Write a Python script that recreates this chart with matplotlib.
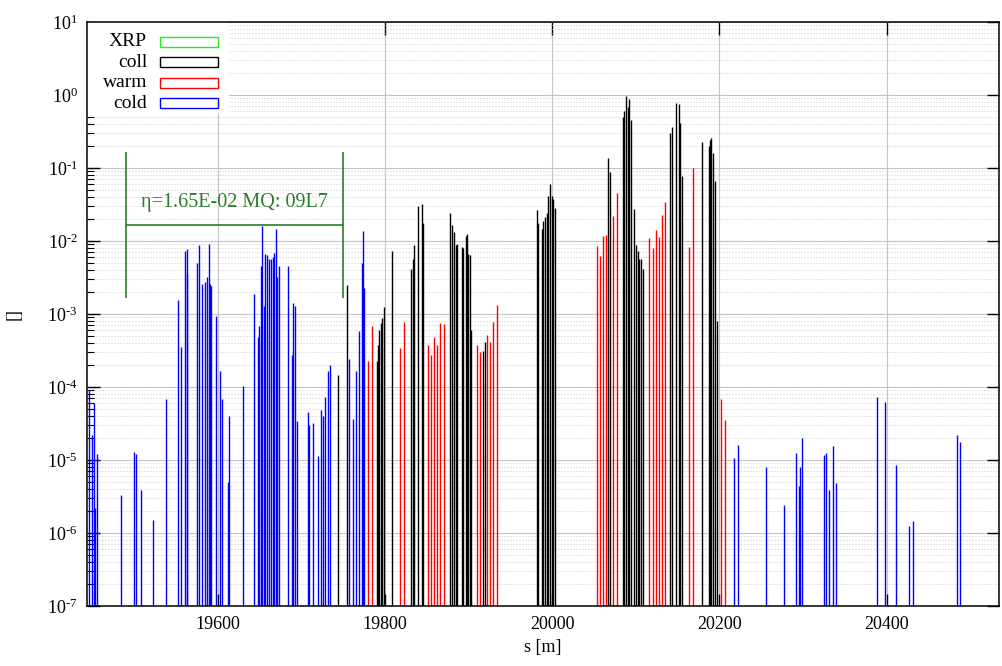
import matplotlib
matplotlib.use('Agg')
import matplotlib.pyplot as plt
from matplotlib.patches import Rectangle
from matplotlib.ticker import FixedLocator, NullFormatter, FixedFormatter

plt.rcParams['font.family'] = ['Liberation Serif', 'DejaVu Serif']
plt.rcParams['mathtext.fontset'] = 'custom'
plt.rcParams['mathtext.rm'] = 'Liberation Serif'
plt.rcParams['mathtext.it'] = 'Liberation Serif:italic'

# ---------------- data ----------------
cold_s = [19445.6, 19448.9, 19452.0, 19453.2, 19455.2, 19484.3, 19499.1, 19501.9, 19507.5, 19522.2,
          19538.1, 19552.1, 19555.4, 19560.1, 19562.5, 19563.5, 19574.5, 19577.6, 19580.3, 19585.0,
          19587.1, 19589.2, 19590.4, 19592.0, 19597.2, 19602.4, 19605.1, 19611.6, 19612.8, 19629.6,
          19643.4, 19647.5, 19649.4, 19651.1, 19653.0, 19655.4, 19656.6, 19658.6, 19661.4, 19663.4,
          19665.5, 19667.0, 19669.0, 19671.0, 19673.4, 19684.1, 19688.2, 19689.8, 19692.5, 19694.5,
          19708.1, 19709.3, 19713.3, 19719.7, 19723.3, 19726.0, 19728.4, 19731.3, 19734.4, 19757.1,
          19761.2, 19764.8, 19769.1, 19772.0, 19773.2, 19774.7, 20217.9, 20222.3, 20255.4, 20277.0,
          20291.7, 20294.9, 20296.8, 20299.2, 20325.2, 20327.6, 20330.8, 20336.3, 20339.6, 20388.6,
          20398.6, 20411.4, 20426.9, 20431.7, 20484.7, 20487.6]
cold_v = [9e-5, 2.2e-5, 6e-5, 2.2e-6, 1.2e-5, 3.3e-6, 1.3e-5, 1.2e-5, 3.9e-6, 1.5e-6,
          6.9e-5, 1.55e-3, 3.5e-4, 7.4e-3, 7.8e-3, 3.5e-3, 5e-3, 8.7e-3, 2.6e-3, 2.75e-3,
          3.2e-3, 9.1e-3, 2.6e-3, 2.4e-3, 9.5e-4, 1.66e-4, 6.9e-5, 5e-6, 4e-5, 1.02e-4,
          1.9e-3, 4.9e-4, 6.9e-4, 4.5e-3, 1.62e-2, 1.3e-3, 6.6e-3, 6.5e-3, 5.6e-3, 5.6e-3,
          6e-3, 6.9e-3, 1.48e-2, 3.2e-3, 4.5e-3, 4.6e-3, 2.75e-4, 1.4e-3, 1.3e-3, 3.4e-5,
          4.5e-5, 3e-5, 3.2e-5, 1.15e-5, 4.9e-5, 4e-5, 7.2e-5, 1.66e-4, 2e-4, 2.45e-4,
          3.6e-5, 1.66e-4, 5.9e-4, 5e-3, 1.38e-2, 2.3e-3, 1.05e-5, 1.6e-5, 8.1e-6, 2.4e-6,
          1.23e-5, 4.4e-6, 7.9e-6, 2e-5, 1.17e-5, 1.26e-5, 3.9e-6, 1.55e-5, 4.9e-6, 7.2e-5,
          6.3e-5, 8.5e-6, 1.26e-6, 1.48e-6, 2.2e-5, 1.74e-5]

coll_s = [19743.2, 19754.7, 19789.9, 19791.1, 19793.0, 19795.1, 19796.6, 19798.7, 19807.9, 19830.6,
          19833.0, 19834.9, 19839.0, 19843.8, 19845.7, 19878.0, 19880.0, 19882.1, 19884.5, 19886.0,
          19892.0, 19893.5, 19896.4, 19898.0, 19899.5, 19901.2, 19902.4, 19917.5, 19919.5, 19981.4,
          19983.3, 19987.4, 19989.3, 19991.3, 19993.4, 19995.3, 19997.3, 19999.3, 20001.3, 20003.3,
          20067.1, 20068.7, 20084.3, 20086.2, 20088.3, 20090.3, 20092.2, 20094.2, 20098.2, 20100.2,
          20102.3, 20104.2, 20106.2, 20108.2, 20140.6, 20142.9, 20147.7, 20151.3, 20153.2, 20155.6,
          20178.8, 20187.2, 20188.8, 20190.3, 20192.4, 20195.1, 20197.2]
coll_v = [1.45e-4, 2.5e-3, 2.3e-4, 3.8e-4, 6e-4, 7.6e-4, 8.9e-4, 1.26e-3, 7.4e-3, 4.1e-3,
          5.6e-3, 8.9e-3, 3e-2, 3.2e-2, 1.74e-2, 2.4e-2, 1.66e-2, 1.32e-2, 8.9e-3, 9.1e-3,
          8.3e-3, 7.9e-3, 1.17e-2, 1.26e-2, 6.6e-3, 6.5e-3, 6e-4, 3.1e-4, 4.2e-4, 2.7e-2,
          1.78e-2, 1.45e-2, 1.86e-2, 2.1e-2, 2.45e-2, 4.1e-2, 6e-2, 4.1e-2, 3.8e-2, 2.8e-2,
          1.38e-1, 8.7e-2, 0.5, 0.6, 0.98, 0.69, 0.87, 0.46, 2.75e-2, 8.9e-3,
          7.2e-3, 5.6e-3, 5.6e-3, 4.1e-3, 0.30, 0.37, 0.78, 0.76, 0.41, 7.8e-2,
          0.23, 0.20, 0.24, 0.26, 0.16, 6.6e-2, 8.1e-4]

warm_s = [19779.9, 19784.3, 19817.8, 19822.6, 19851.0, 19854.9, 19858.5, 19862.4, 19866.0, 19870.1,
          19909.6, 19913.2, 19921.9, 19925.9, 19929.5, 19933.5, 20053.2, 20056.8, 20060.7, 20064.7,
          20073.1, 20077.1, 20116.1, 20120.2, 20123.8, 20127.7, 20131.3, 20135.3, 20164.0, 20168.8,
          20202.3, 20206.4]
warm_v = [2.3e-4, 6.8e-4, 3.4e-4, 7.8e-4, 3.8e-4, 2.75e-4, 4.9e-4, 3.8e-4, 7.6e-4, 7.4e-4,
          3.8e-4, 3e-4, 5.2e-4, 4.2e-4, 7.8e-4, 1.32e-3, 8.5e-3, 6.2e-3, 1.17e-2, 1.2e-2,
          2.2e-2, 4.6e-2, 1.1e-2, 7.9e-3, 1.41e-2, 1.12e-2, 2.3e-2, 3.4e-2, 8.3e-3, 0.1,
          6.9e-5, 3.5e-5]

xrp_s = []
xrp_v = []

legend_labels = ['XRP', 'coll', 'warm', 'cold']
legend_colors = ['#22ee22', 'black', 'red', 'blue']

eta = 1.65e-2
mq_start = 19489.5
mq_end = 19749.6
mq_label = 'η=1.65E-02 MQ: 09L7'

x_ticks = [19600, 19800, 20000, 20200, 20400]
y_exps = [-7, -6, -5, -4, -3, -2, -1, 0, 1]
x_min, x_max = 19443.6, 20534.6
y_min, y_max = 1e-7, 1e1

assert len(cold_s) == len(cold_v)
assert len(coll_s) == len(coll_v)
assert len(warm_s) == len(warm_v)

# ---------------- figure ----------------
fig = plt.figure(figsize=(10.02, 6.66), dpi=100)
ax = fig.add_axes([0.08713, 0.09009, 0.90988, 0.87688])
ax.set_yscale('log')
ax.set_xlim(x_min, x_max)
ax.set_ylim(y_min, y_max)

y_major = [10.0 ** e for e in y_exps]
y_minor = [m * 10.0 ** e for e in y_exps[:-1] for m in range(2, 10)]
ax.xaxis.set_major_locator(FixedLocator(x_ticks))
ax.yaxis.set_major_locator(FixedLocator(y_major))
ax.yaxis.set_major_formatter(FixedFormatter([r'$10^{\text{%d}}$' % e for e in y_exps]))
ax.yaxis.set_minor_locator(FixedLocator(y_minor))
ax.yaxis.set_minor_formatter(NullFormatter())

# grid
ax.grid(which='major', axis='both', color='#c4c4c4', lw=0.8, ls='-', zorder=0)
ax.yaxis.grid(which='minor', color='#cccccc', lw=0.72, ls=(0, (1, 2)), zorder=0)
ax.set_axisbelow(True)

# impulses
lw = 1.0
ax.vlines(cold_s, y_min, cold_v, colors='blue', lw=lw, zorder=2)
ax.vlines(warm_s, y_min, warm_v, colors='red', lw=lw, zorder=2)
ax.vlines(coll_s, y_min, coll_v, colors='black', lw=lw, zorder=3)
if xrp_s:
    ax.vlines(xrp_s, y_min, xrp_v, colors=legend_colors[0], lw=lw, zorder=3)

# annotation bracket
gcol = '#2a7d2a'
ax.vlines([mq_start, mq_end], eta / 10, eta * 10, colors=gcol, lw=1.2, zorder=4)
ax.hlines(eta, mq_start, mq_end, colors=gcol, lw=1.2, zorder=4)
ax.annotate(mq_label, xy=((mq_start + mq_end) / 2, eta), xytext=(0, 16),
            textcoords='offset points', ha='center', va='center',
            color=gcol, fontsize=14.5, zorder=5)

# legend (gnuplot-style key with white background)
ax.add_patch(Rectangle((0, 0.844), 0.1554, 0.156, transform=ax.transAxes,
                       facecolor='white', edgecolor='none', zorder=1))
rows_y = [0.9663, 0.931, 0.896, 0.861]
for lab, col, yy in zip(legend_labels, legend_colors, rows_y):
    ax.text(0.0655, yy, lab, transform=ax.transAxes, ha='right', va='center',
            fontsize=14, zorder=6)
    ax.add_patch(Rectangle((0.0798, yy - 0.0088), 0.0637, 0.0176, transform=ax.transAxes,
                           facecolor='none', edgecolor=col, lw=1.0, zorder=6))

# ticks
ax.tick_params(which='major', direction='in', length=9, width=1.0, top=True, right=True,
               labelsize=13, pad=7)
ax.tick_params(which='minor', direction='in', length=5, width=0.8, left=True, right=False)
ax.set_xticklabels([str(t) for t in x_ticks])
for sp in ax.spines.values():
    sp.set_linewidth(1.1)
    sp.set_zorder(7)

ax.set_xlabel('s [m]', fontsize=13)
ax.set_ylabel('[]', fontsize=13)
ax.xaxis.set_label_coords(0.5, -0.056)
ax.yaxis.set_label_coords(-0.0705, 0.5)

fig.savefig('out.png', dpi=100)
